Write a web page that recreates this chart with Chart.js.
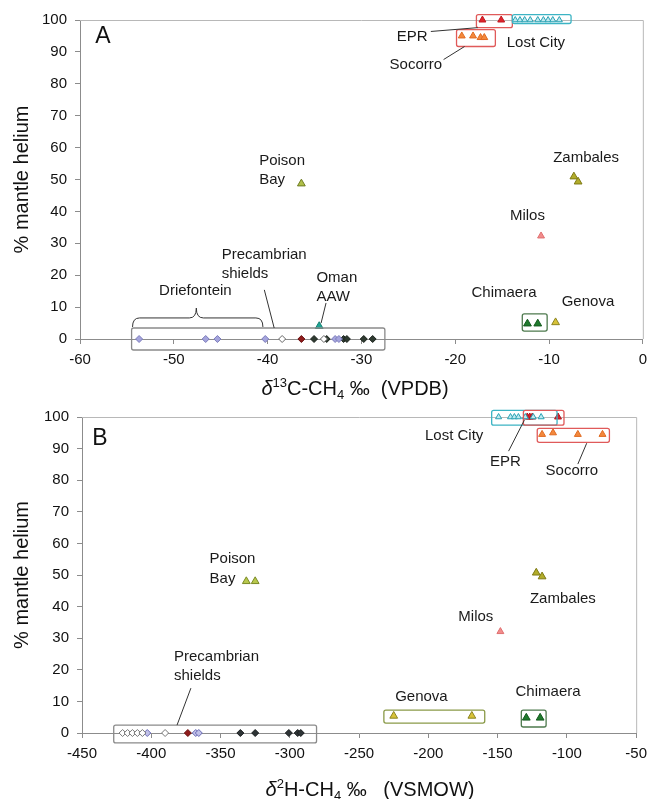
<!DOCTYPE html>
<html>
<head>
<meta charset="utf-8">
<script src="https://cdn.jsdelivr.net/npm/chart.js"></script>
<style>
  body { margin: 0; background: #fff; }
  canvas { display: block; }
</style>
</head>
<body>
<canvas id="chartA" width="654" height="400"></canvas>
<canvas id="chartB" width="654" height="399"></canvas>
<script>
// ---- Panel A: d13C-CH4 (VPDB) vs % mantle helium ----
const aLostCityC = [-13.6, -13.1, -12.6, -12.0, -11.2, -10.6, -10.1, -9.6, -8.9];
const aLostCityHe = [100, 100, 100, 100, 100, 100, 100, 100, 100];
const aEprC = [-17.1, -15.1];
const aEprHe = [100, 100];
const aSocorroC = [-19.3, -18.1, -17.3, -16.9];
const aSocorroHe = [95, 95, 94.5, 94.5];
const aZambalesC = [-7.35, -6.9];
const aZambalesHe = [50.9, 49.3];
const aPoisonC = [-36.4];
const aPoisonHe = [48.7];
const aMilosC = [-10.85];
const aMilosHe = [32.3];
const aChimaeraC = [-12.3, -11.2];
const aChimaeraHe = [4.8, 4.8];
const aGenovaC = [-9.3];
const aGenovaHe = [5.2];
const aOmanC = [-34.5];
const aOmanHe = [4];
const aShieldLavC = [-53.7, -46.6, -45.35, -40.25, -32.8, -32.4];
const aShieldOpenC = [-38.45, -34.0];
const aShieldRedC = [-36.4];
const aShieldDarkC = [-35.05, -33.7, -31.9, -31.55, -29.75, -28.8];

// ---- Panel B: d2H-CH4 (VSMOW) vs % mantle helium ----
const bLostCityH = [-149.3, -140.7, -137.9, -135, -130, -124.3, -118.6];
const bLostCityHe = [100, 100, 100, 100, 100, 100, 100];
const bEprH = [-128.6, -126.8, -125, -106.4];
const bEprHe = [100, 100, 100, 100];
const bSocorroH = [-117.9, -110, -92.1, -74.3];
const bSocorroHe = [94.5, 95, 94.5, 94.5];
const bZambalesH = [-122.1, -117.9];
const bZambalesHe = [50.7, 49.5];
const bPoisonH = [-331.4, -325];
const bPoisonHe = [48, 48];
const bMilosH = [-148];
const bMilosHe = [32.1];
const bGenovaH = [-225, -168.6];
const bGenovaHe = [5.4, 5.4];
const bChimaeraH = [-129.3, -119.3];
const bChimaeraHe = [4.8, 4.8];
const bShieldOpenH = [-420.7, -417.1, -413.6, -410, -406.4, -390];
const bShieldLavH = [-402.9, -367.9, -365.7];
const bShieldRedH = [-373.6];
const bShieldDarkH = [-335.7, -325, -300.7, -294.3, -292.1];

const FONT = "'Liberation Sans', Arial, sans-serif";
Chart.defaults.font.family = FONT;

function pts(xs, ys) {
    return xs.map((x, i) => ({ x: x, y: ys[i] }));
}
function zeros(xs) {
    return xs.map(() => 0);
}

function tri(label, xs, ys, fill, edge, r) {
    return { label: label, data: pts(xs, ys), pointStyle: 'triangle', pointRadius: r || 4,
        backgroundColor: fill, borderColor: edge, borderWidth: 1, clip: false };
}
function dia(label, xs, fill, edge) {
    return { label: label, data: pts(xs, zeros(xs)), pointStyle: 'rectRot', pointRadius: 3.5,
        backgroundColor: fill, borderColor: edge, borderWidth: 1, clip: false };
}

// draws a run of text pieces (italic / superscript / subscript)
function richText(ctx, parts, cx, cy, size) {
    const fontFor = p => (p.italic ? 'italic ' : '') + ((p.sup || p.sub) ? Math.round(size * 0.65) : size) + 'px ' + FONT;
    let total = 0;
    parts.forEach(p => { ctx.font = fontFor(p); total += ctx.measureText(p.t).width; });
    let x = cx - total / 2;
    ctx.textAlign = 'left';
    ctx.textBaseline = 'alphabetic';
    const base = cy + size * 0.35;
    parts.forEach(p => {
        ctx.font = fontFor(p);
        let y = base;
        if (p.sup) y = base - size * 0.4;
        if (p.sub) y = base + size * 0.22;
        ctx.fillText(p.t, x, y);
        x += ctx.measureText(p.t).width;
    });
}

const annotPlugin = {
    id: 'annot',
    beforeDatasetsDraw(chart) {
        const a = chart.chartArea, ctx = chart.ctx;
        ctx.save();
        ctx.strokeStyle = '#b8b8b8';
        ctx.lineWidth = 1;
        ctx.beginPath();
        ctx.moveTo(a.left, a.top + 0.5);
        ctx.lineTo(a.right + 0.5, a.top + 0.5);
        ctx.lineTo(a.right + 0.5, a.bottom);
        ctx.stroke();
        ctx.restore();
    },
    afterDatasetsDraw(chart, args, opts) {
        const ctx = chart.ctx, xs = chart.scales.x, ys = chart.scales.y;
        const px = v => xs.getPixelForValue(v), py = v => ys.getPixelForValue(v);
        ctx.save();
        (opts.boxes || []).forEach(b => {
            ctx.strokeStyle = b.color;
            ctx.lineWidth = 1.3;
            ctx.beginPath();
            const x0 = px(b.x0), x1 = px(b.x1), y0 = py(b.y0), y1 = py(b.y1);
            if (ctx.roundRect) ctx.roundRect(x0, y0, x1 - x0, y1 - y0, 2);
            else ctx.rect(x0, y0, x1 - x0, y1 - y0);
            ctx.stroke();
        });
        ctx.strokeStyle = '#333';
        ctx.lineWidth = 1;
        (opts.lines || []).forEach(l => {
            ctx.beginPath();
            ctx.moveTo(px(l.x0), py(l.y0));
            ctx.lineTo(px(l.x1), py(l.y1));
            ctx.stroke();
        });
        (opts.braces || []).forEach(b => {
            const x0 = px(b.x0), x1 = px(b.x1), xt = px(b.xt);
            const ye = py(b.yEnd), ym = py(b.yMid), yt = py(b.yTip);
            const r = 7;
            ctx.beginPath();
            ctx.moveTo(x0, ye);
            ctx.quadraticCurveTo(x0, ym, x0 + r, ym);
            ctx.lineTo(xt - r, ym);
            ctx.quadraticCurveTo(xt, ym, xt, yt);
            ctx.quadraticCurveTo(xt, ym, xt + r, ym);
            ctx.lineTo(x1 - r, ym);
            ctx.quadraticCurveTo(x1, ym, x1, ye);
            ctx.stroke();
        });
        ctx.fillStyle = '#1a1a1a';
        ctx.textBaseline = 'middle';
        (opts.texts || []).forEach(t => {
            ctx.font = (t.size || 15) + 'px ' + FONT;
            ctx.textAlign = t.align || 'center';
            ctx.fillText(t.t, px(t.x), py(t.y));
        });
        ctx.restore();
    },
    afterDraw(chart, args, opts) {
        const ctx = chart.ctx, a = chart.chartArea;
        ctx.save();
        ctx.fillStyle = '#111';
        // panel letter
        ctx.font = '23px ' + FONT;
        ctx.textAlign = 'center';
        ctx.textBaseline = 'middle';
        ctx.fillText(opts.letter.t, opts.letter.x, opts.letter.y);
        // y-axis title
        ctx.save();
        ctx.translate(22, (a.top + a.bottom) / 2);
        ctx.rotate(-Math.PI / 2);
        ctx.font = '20px ' + FONT;
        ctx.fillText('% mantle helium', 0, 0);
        ctx.restore();
        // x-axis title
        richText(ctx, opts.xTitle.parts, opts.xTitle.x, opts.xTitle.y, 20);
        ctx.restore();
    }
};

function makeChart(id, datasets, xr, yWidth, xHeight, padding, annot) {
    return new Chart(document.getElementById(id).getContext('2d'), {
        type: 'scatter',
        data: { datasets: datasets },
        options: {
            responsive: false,
            animation: false,
            layout: { padding: padding },
            plugins: { legend: { display: false }, tooltip: { enabled: false }, annot: annot },
            scales: {
                x: {
                    type: 'linear', min: xr[0], max: xr[1],
                    ticks: { stepSize: xr[2], color: '#111', font: { size: 15 }, padding: 7, maxRotation: 0 },
                    grid: { drawOnChartArea: false, drawTicks: true, tickLength: 5, color: '#8c8c8c' },
                    border: { color: '#8c8c8c' },
                    afterFit: s => { s.height = xHeight; }
                },
                y: {
                    min: 0, max: 100,
                    ticks: { stepSize: 10, color: '#111', font: { size: 15 }, padding: 8 },
                    grid: { drawOnChartArea: false, drawTicks: true, tickLength: 5, color: '#8c8c8c' },
                    border: { color: '#8c8c8c' },
                    afterFit: s => { s.width = yWidth; }
                }
            }
        },
        plugins: [annotPlugin]
    });
}

const datasetsA = [
    dia('Precambrian shields', aShieldLavC, '#a4a4dc', '#7c7cbc'),
    dia('Precambrian shields', aShieldOpenC, '#ffffff', '#666666'),
    dia('Precambrian shields', aShieldRedC, '#8e1b1b', '#6a1010'),
    dia('Precambrian shields', aShieldDarkC, '#2e3a30', '#1a221c'),
    tri('Lost City', aLostCityC, aLostCityHe, '#bfe9ef', '#2aa2b4', 3.5),
    tri('EPR', aEprC, aEprHe, '#e0242c', '#c01820'),
    tri('Socorro', aSocorroC, aSocorroHe, '#f3883c', '#e06a20'),
    tri('Zambales', aZambalesC, aZambalesHe, '#b2ac2a', '#7e7a14', 4.5),
    tri('Poison Bay', aPoisonC, aPoisonHe, '#b0bf48', '#6e7c22', 4.5),
    tri('Milos', aMilosC, aMilosHe, '#f28c8c', '#e07070'),
    tri('Chimaera', aChimaeraC, aChimaeraHe, '#1e7a2c', '#145a1e', 4.5),
    tri('Genova', aGenovaC, aGenovaHe, '#d8c238', '#8c8420', 4.5),
    tri('Oman AAW', aOmanC, aOmanHe, '#1fa596', '#128070', 4.5)
];

const datasetsB = [
    dia('Precambrian shields', bShieldOpenH, '#ffffff', '#777777'),
    dia('Precambrian shields', bShieldLavH, '#c0c0e8', '#6a6ab4'),
    dia('Precambrian shields', bShieldRedH, '#8e1b1b', '#6a1010'),
    dia('Precambrian shields', bShieldDarkH, '#2e3436', '#1a1e20'),
    tri('Lost City', bLostCityH, bLostCityHe, '#bfe9ef', '#2aa2b4', 3.5),
    tri('EPR', bEprH, bEprHe, '#d8202c', '#b01820'),
    tri('Socorro', bSocorroH, bSocorroHe, '#f3883c', '#e06a20'),
    tri('Zambales', bZambalesH, bZambalesHe, '#b2ac2a', '#7e7a14', 4.5),
    tri('Poison Bay', bPoisonH, bPoisonHe, '#b8c84c', '#7a8a26', 4.5),
    tri('Milos', bMilosH, bMilosHe, '#f28c8c', '#e07070'),
    tri('Genova', bGenovaH, bGenovaHe, '#d8c238', '#8c8420', 4.5),
    tri('Chimaera', bChimaeraH, bChimaeraHe, '#1e7a2c', '#145a1e', 4.5)
];

makeChart('chartA', datasetsA, [-60, 0, 10], 80, 61, { left: 0, right: 9, top: 20, bottom: 0 }, {
    letter: { t: 'A', x: 103, y: 37 },
    xTitle: { x: 355, y: 388, parts: [{ t: 'δ', italic: true }, { t: '13', sup: true }, { t: 'C-CH' }, { t: '4', sub: true }, { t: ' ‰  (VPDB)' }] },
    texts: [
        { t: 'EPR', x: -24.6, y: 94.8 },
        { t: 'Lost City', x: -11.4, y: 92.9 },
        { t: 'Socorro', x: -24.2, y: 86.0 },
        { t: 'Poison', x: -40.9, y: 55.9, align: 'left' },
        { t: 'Bay', x: -40.9, y: 49.9, align: 'left' },
        { t: 'Zambales', x: -6.05, y: 56.8 },
        { t: 'Milos', x: -12.3, y: 38.6 },
        { t: 'Chimaera', x: -14.8, y: 14.4 },
        { t: 'Genova', x: -5.85, y: 11.6 },
        { t: 'Oman', x: -34.8, y: 19.2, align: 'left' },
        { t: 'AAW', x: -34.8, y: 13.2, align: 'left' },
        { t: 'Precambrian', x: -44.9, y: 26.4, align: 'left' },
        { t: 'shields', x: -44.9, y: 20.4, align: 'left' },
        { t: 'Driefontein', x: -47.7, y: 15.1 }
    ],
    boxes: [
        { x0: -17.74, x1: -13.91, y0: 101.7, y1: 97.6, color: '#e05a5a' },
        { x0: -13.91, x1: -7.65, y0: 101.7, y1: 98.9, color: '#3cb4c4' },
        { x0: -19.86, x1: -15.72, y0: 97.0, y1: 91.7, color: '#e05a5a' },
        { x0: -12.85, x1: -10.2, y0: 7.85, y1: 2.5, color: '#4e7a4e' },
        { x0: -54.5, x1: -27.5, y0: 3.45, y1: -3.45, color: '#8a8a8a' }
    ],
    lines: [
        { x0: -22.6, y0: 96.4, x1: -17.6, y1: 97.6 },
        { x0: -21.24, y0: 87.6, x1: -19.0, y1: 91.7 },
        { x0: -33.77, y0: 11.3, x1: -34.3, y1: 5.0 },
        { x0: -40.35, y0: 15.4, x1: -39.3, y1: 3.45 }
    ],
    braces: [
        { x0: -54.4, x1: -40.5, xt: -47.6, yEnd: 3.77, yMid: 6.6, yTip: 9.7 }
    ]
});

makeChart('chartB', datasetsB, [-450, -50, 50], 82, 66, { left: 0, right: 12, top: 16, bottom: 0 }, {
    letter: { t: 'B', x: 100, y: 39 },
    xTitle: { x: 370, y: 389, parts: [{ t: 'δ', italic: true }, { t: '2', sup: true }, { t: 'H-CH' }, { t: '4', sub: true }, { t: ' ‰   (VSMOW)' }] },
    texts: [
        { t: 'Lost City', x: -181.4, y: 93.9 },
        { t: 'EPR', x: -144.3, y: 85.7 },
        { t: 'Socorro', x: -96.4, y: 82.9 },
        { t: 'Zambales', x: -102.9, y: 42.5 },
        { t: 'Milos', x: -165.7, y: 36.6 },
        { t: 'Poison', x: -357.9, y: 55.2, align: 'left' },
        { t: 'Bay', x: -357.9, y: 48.8, align: 'left' },
        { t: 'Genova', x: -205, y: 11.3 },
        { t: 'Chimaera', x: -113.6, y: 12.9 },
        { t: 'Precambrian', x: -383.6, y: 24.0, align: 'left' },
        { t: 'shields', x: -383.6, y: 18.0, align: 'left' }
    ],
    boxes: [
        { x0: -154.3, x1: -107.1, y0: 102.1, y1: 97.4, color: '#3cb4c4' },
        { x0: -131.4, x1: -102.1, y0: 102.1, y1: 97.4, color: '#e05a5a' },
        { x0: -121.4, x1: -69.3, y0: 96.4, y1: 92.0, color: '#e05a5a' },
        { x0: -232.1, x1: -159.3, y0: 7.25, y1: 3.15, color: '#8a9a48' },
        { x0: -132.9, x1: -115, y0: 7.25, y1: 1.9, color: '#4e7a4e' },
        { x0: -427.1, x1: -280.7, y0: 2.5, y1: -3.15, color: '#8a8a8a' }
    ],
    lines: [
        { x0: -142.1, y0: 89.2, x1: -130.7, y1: 99.0 },
        { x0: -92.1, y0: 85.1, x1: -85.7, y1: 91.7 },
        { x0: -371.4, y0: 14.2, x1: -381.4, y1: 2.5 }
    ]
});
</script>
</body>
</html>
